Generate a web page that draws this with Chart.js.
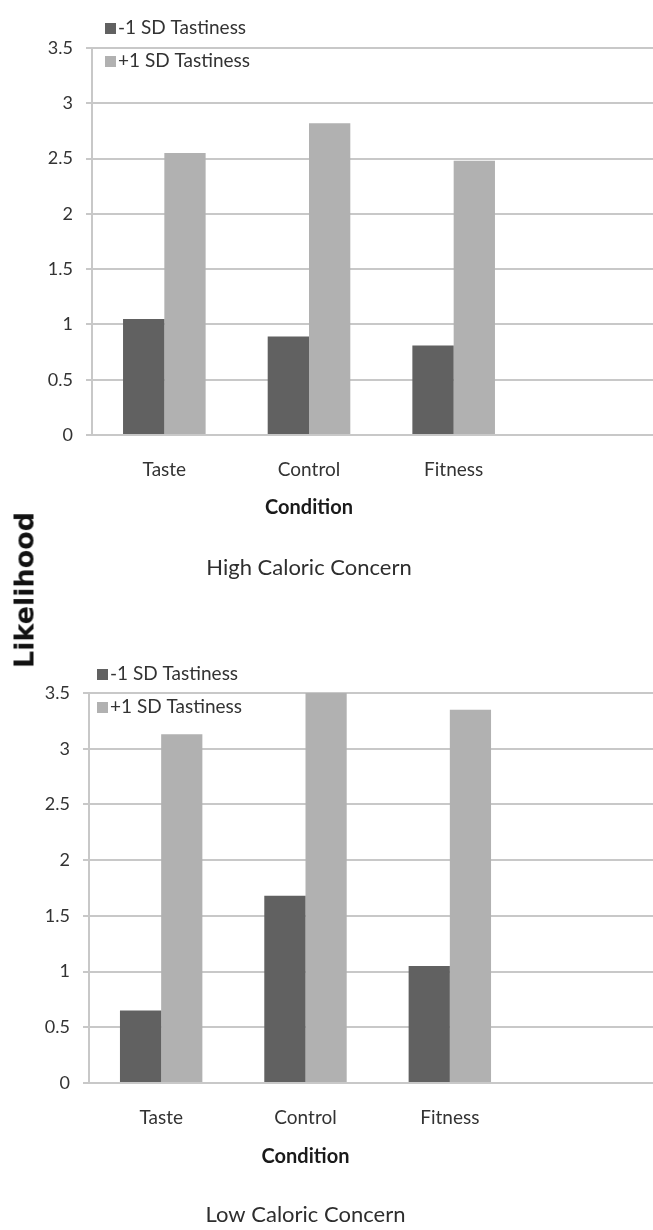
<!DOCTYPE html>
<html>
<head>
<meta charset="utf-8">
<script src="https://cdn.jsdelivr.net/npm/chart.js@4.4.1/dist/chart.umd.min.js"></script>
<style>
  html, body { margin: 0; padding: 0; background: #fff; }
  body { width: 653px; height: 1230px; position: relative; overflow: hidden; }
  .panel { position: absolute; left: 0; width: 653px; }
  .panel canvas { display: block; }
  #likelihood {
    position: absolute; left: 24px; top: 590px;
    transform: translate(-50%, -50%) rotate(-90deg);
    font: bold 27px "DejaVu Sans", sans-serif; color: #111; white-space: nowrap;
  }
</style>
</head>
<body>
<div class="panel" style="top:0;height:600px"><canvas id="chartHigh" width="653" height="600"></canvas></div>
<div class="panel" style="top:615px;height:615px"><canvas id="chartLow" width="653" height="615"></canvas></div>
<div id="likelihood">Likelihood</div>

<script>
// Conditions and series
const conditions = ['Taste', 'Control', 'Fitness'];
const seriesNames = ['-1 SD Tastiness', '+1 SD Tastiness'];

// High caloric concern
const highMinus = [1.05, 0.89, 0.81];
const highPlus  = [2.55, 2.82, 2.48];

// Low caloric concern
const lowMinus = [0.65, 1.68, 1.05];
const lowPlus  = [3.13, 3.50, 3.35];

// Axis ticks and text
const yTicks = [0, 0.5, 1, 1.5, 2, 2.5, 3, 3.5];
const xTitle = 'Condition';
const panelTitles = ['High Caloric Concern', 'Low Caloric Concern'];

// Styles
const DARK = '#616161';
const LIGHT = '#b1b1b1';
const GRID = '#c8c8c8';
const TEXT = '#333333';
const FONT = 'Lato';

// Horizontal grid lines run on to the right edge of the canvas
const gridExtend = {
  id: 'gridExtend',
  beforeDatasetsDraw(chart) {
    const { ctx, chartArea, scales: { y } } = chart;
    ctx.save();
    ctx.strokeStyle = GRID;
    ctx.lineWidth = 2;
    y.ticks.forEach(t => {
      const py = Math.round(y.getPixelForValue(t.value));
      ctx.beginPath();
      ctx.moveTo(chartArea.right, py);
      ctx.lineTo(chart.width, py);
      ctx.stroke();
    });
    ctx.restore();
  }
};

// Small square-swatch legend in the upper-left corner of the plot
const boxLegend = {
  id: 'boxLegend',
  afterDatasetsDraw(chart, args, opts) {
    const { ctx, chartArea } = chart;
    ctx.save();
    ctx.font = `19px ${FONT}`;
    ctx.textBaseline = 'middle';
    ctx.textAlign = 'left';
    chart.data.datasets.forEach((ds, i) => {
      const cy = chartArea.top + opts.rows[i];
      const x = chartArea.left + opts.dx;
      ctx.fillStyle = ds.backgroundColor;
      ctx.fillRect(x, Math.round(cy - 5.5), 11, 11);
      ctx.fillStyle = TEXT;
      ctx.fillText(ds.label, x + 13, cy);
    });
    ctx.restore();
  }
};

// Panel frame (page coordinates): plot box, canvas box, text centres
function buildChart(canvasId, minusVals, plusVals, title, frame) {
  const titleLH = 22 * 1.2;
  const xTitleLH = 20 * 1.2;
  const tickLH = 19 * 1.2;
  const canvasBottom = frame.canvasTop + frame.canvasH;
  const titlePadBottom = canvasBottom - frame.titleY - titleLH / 2;
  const titleBoxTop = canvasBottom - titlePadBottom - titleLH;
  const xAxisH = titleBoxTop - frame.bottom;
  const xTitlePadBottom = titleBoxTop - frame.xTitleY - xTitleLH / 2;
  const tickPad = frame.tickY - frame.bottom - tickLH / 2;

  return new Chart(document.getElementById(canvasId), {
    type: 'bar',
    data: {
      labels: conditions,
      datasets: [
        { label: seriesNames[0], data: minusVals, backgroundColor: DARK },
        { label: seriesNames[1], data: plusVals, backgroundColor: LIGHT }
      ]
    },
    options: {
      responsive: false,
      animation: false,
      events: [],
      layout: {
        padding: { top: frame.top - frame.canvasTop, right: 653 - frame.right, bottom: 0, left: 0 }
      },
      datasets: { bar: { categoryPercentage: 0.571, barPercentage: 1.0, borderWidth: 0 } },
      scales: {
        x: {
          offset: true,
          afterFit(s) { s.height = xAxisH; },
          grid: { display: false, drawTicks: false },
          border: { display: true, color: GRID, width: 2 },
          ticks: { font: { family: FONT, size: 19 }, color: TEXT, padding: tickPad },
          title: {
            display: true, text: xTitle, color: '#1a1a1a',
            font: { family: FONT, size: 20, weight: 'bold' },
            padding: { top: 0, bottom: xTitlePadBottom }
          }
        },
        y: {
          min: 0, max: 3.5,
          afterFit(s) { s.width = frame.left; },
          afterBuildTicks(s) { s.ticks = yTicks.map(v => ({ value: v })); },
          grid: { color: GRID, lineWidth: 2, tickLength: 6, drawTicks: true },
          border: { display: true, color: GRID, width: 2 },
          ticks: { font: { family: FONT, size: 18 }, color: TEXT, padding: 13, callback: v => String(v) }
        }
      },
      plugins: {
        legend: { display: false },
        tooltip: { enabled: false },
        title: {
          display: true, position: 'bottom', fullSize: false, text: title, color: '#2e2e2e',
          font: { family: FONT, size: 22, weight: 'normal' },
          padding: { top: 0, bottom: titlePadBottom }
        },
        boxLegend: frame.legend
      }
    },
    plugins: [gridExtend, boxLegend]
  });
}

function draw() {
  buildChart('chartHigh', highMinus, highPlus, panelTitles[0], {
    canvasTop: 0, canvasH: 600,
    top: 48, bottom: 435, left: 92, right: 526,
    tickY: 470, xTitleY: 508, titleY: 568,
    legend: { dx: 13, rows: [-20, 13] }
  });
  buildChart('chartLow', lowMinus, lowPlus, panelTitles[1], {
    canvasTop: 615, canvasH: 615,
    top: 693, bottom: 1083, left: 89, right: 522,
    tickY: 1118, xTitleY: 1157, titleY: 1215,
    legend: { dx: 8, rows: [-19, 14] }
  });
}

if (document.fonts && document.fonts.load) {
  Promise.all([
    document.fonts.load(`19px ${FONT}`),
    document.fonts.load(`bold 20px ${FONT}`)
  ]).then(draw, draw);
} else {
  draw();
}
</script>
</body>
</html>
